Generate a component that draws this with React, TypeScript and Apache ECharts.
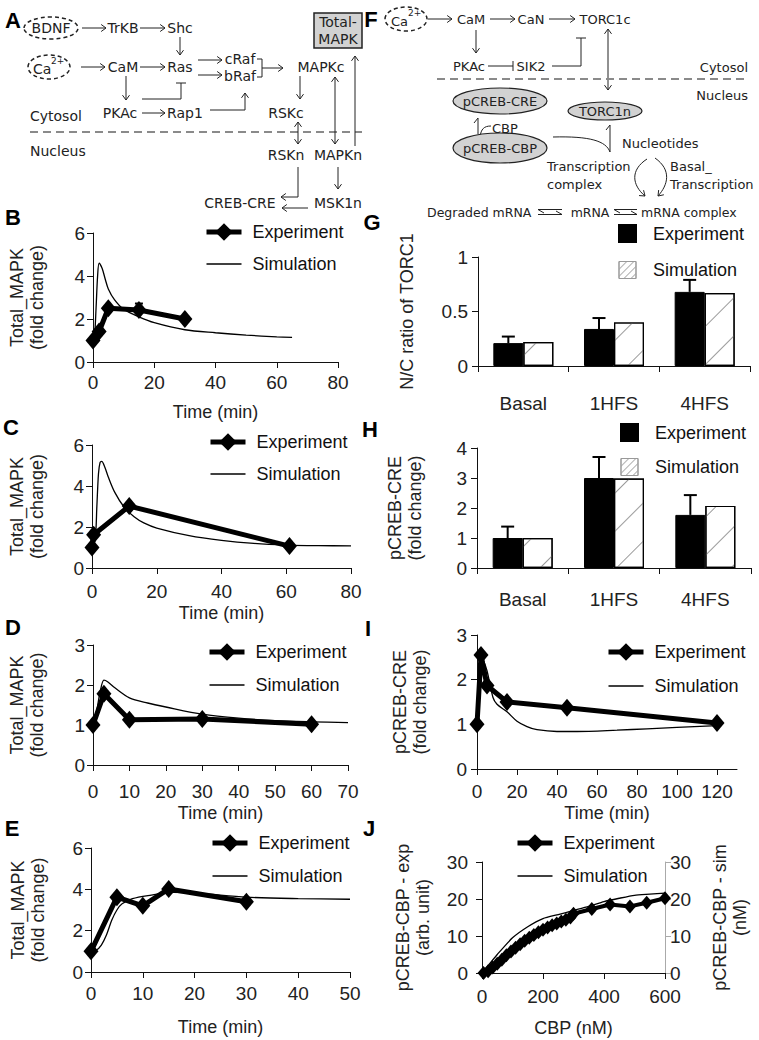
import React, { useEffect, useRef } from "react";
import * as echarts from "echarts";

// ---------------- data ----------------
const bExpTime = [0, 2, 5, 15, 30];
const bExpVal = [1.0, 1.42, 2.5, 2.42, 2.0];
const bErr = [[15, 2.12, 2.72]];
const bSimTime = [0, 0.5, 1, 1.5, 2, 3, 4, 5, 7, 10, 15, 20, 30, 40, 50, 60, 65];
const bSimVal = [1, 1.2, 2.5, 4.0, 4.6, 4.35, 3.85, 3.4, 2.9, 2.45, 2.1, 1.83, 1.5, 1.36, 1.25, 1.17, 1.15];

const cExpTime = [0, 0.5, 11.5, 61];
const cExpVal = [1.0, 1.62, 3.02, 1.07];
const cSimTime = [0, 1, 1.5, 2, 2.5, 3, 4, 5, 7, 10, 13, 16, 20, 30, 40, 50, 60, 70, 80];
const cSimVal = [1, 1.4, 3.0, 4.6, 5.15, 5.2, 4.9, 4.45, 3.7, 2.95, 2.5, 2.2, 1.95, 1.58, 1.35, 1.2, 1.12, 1.09, 1.08];

const dExpTime = [0, 3, 10, 30, 60];
const dExpVal = [1.0, 1.78, 1.13, 1.15, 1.02];
const dSimTime = [0, 1, 2, 3, 4, 6, 10, 15, 20, 30, 40, 50, 60, 70];
const dSimVal = [1, 1.35, 1.85, 2.12, 2.08, 1.93, 1.68, 1.55, 1.45, 1.27, 1.17, 1.11, 1.08, 1.06];

const eExpTime = [0, 5, 10, 15, 30];
const eExpVal = [1.0, 3.62, 3.2, 4.02, 3.4];
const eSimTime = [0, 1, 2, 3, 4, 5, 6, 8, 11, 16, 21, 30, 40, 50];
const eSimVal = [1, 1.05, 1.3, 1.8, 2.5, 3.0, 3.3, 3.55, 3.7, 3.85, 3.8, 3.62, 3.55, 3.52];

const barCats = ["Basal", "1HFS", "4HFS"];
const gExp = [0.21, 0.34, 0.68];
const gExpErr = [0.27, 0.44, 0.79];
const gSim = [0.22, 0.4, 0.67];
const hExp = [1.0, 3.0, 1.77];
const hExpErr = [1.38, 3.7, 2.43];
const hSim = [1.0, 2.98, 2.07];

const iExpTime = [0, 2, 5, 15, 45, 120];
const iExpVal = [1.0, 2.55, 1.87, 1.5, 1.37, 1.03];
const iSimTime = [0, 1, 2, 3, 5, 8, 10, 15, 20, 25, 30, 40, 50, 70, 85, 100, 120];
const iSimVal = [1, 1.9, 2.5, 2.45, 2.2, 1.6, 1.45, 1.28, 1.07, 0.95, 0.88, 0.84, 0.84, 0.87, 0.9, 0.93, 0.97];

const jExpCbp = [5, 20, 35, 50, 65, 80, 95, 110, 125, 140, 155, 170, 185, 200, 215, 230, 245, 260, 275, 290, 300, 360, 420, 485, 540, 600];
const jExpVal = [0, 0.5, 1.5, 2.5, 3.6, 4.8, 5.8, 6.8, 7.8, 8.7, 9.5, 10.3, 11, 11.7, 12.3, 12.9, 13.4, 13.9, 14.4, 15, 16, 17.3, 18.5, 18, 19, 20.2];
const jSimCbp = [0, 25, 50, 100, 150, 200, 250, 300, 350, 400, 450, 500, 550, 600];
const jSimVal = [0, 2.5, 5, 9.5, 12.5, 14.7, 15.8, 16.9, 18, 19.3, 20.2, 21, 21.3, 21.6];

// ---------------- helpers ----------------
const zip = (a: number[], b: number[]) => a.map((v, i) => [v, b[i]]);
const INK = "#222";
const DIA = "DejaVu Sans";
const SANS = "Liberation Sans";
const BAR_W = 30;
const FILL = "#d2d2d2";

function txt(x: number, y: number, s: string, size = 14, align = "center", extra: any = {}) {
  return { type: "text", x, y, silent: true, style: { text: s, fontSize: size, fontFamily: DIA, fill: INK, align, verticalAlign: "middle", ...extra } };
}
function seg(x1: number, y1: number, x2: number, y2: number, style: any = {}) {
  return { type: "line", silent: true, shape: { x1, y1, x2, y2 }, style: { stroke: INK, lineWidth: 1, ...style } };
}
function poly(points: number[][], style: any = {}) {
  return { type: "polyline", silent: true, shape: { points }, style: { stroke: INK, lineWidth: 1, fill: "none", ...style } };
}
function head(x: number, y: number, ang: number, len = 6) {
  const a1 = ang + Math.PI * 0.8, a2 = ang - Math.PI * 0.8;
  return poly([[x + len * Math.cos(a1), y + len * Math.sin(a1)], [x, y], [x + len * Math.cos(a2), y + len * Math.sin(a2)]]);
}
function arrow(x1: number, y1: number, x2: number, y2: number) {
  return [seg(x1, y1, x2, y2), head(x2, y2, Math.atan2(y2 - y1, x2 - x1))];
}
function arrow2(x1: number, y1: number, x2: number, y2: number) {
  const a = Math.atan2(y2 - y1, x2 - x1);
  return [seg(x1, y1, x2, y2), head(x2, y2, a), head(x1, y1, a + Math.PI)];
}
function tbar(x: number, y: number, ang: number, len = 10) {
  const dx = -Math.sin(ang) * len / 2, dy = Math.cos(ang) * len / 2;
  return seg(x - dx, y - dy, x + dx, y + dy);
}
function ell(cx: number, cy: number, rx: number, ry: number, dashed: boolean, fill: string) {
  return { type: "ellipse", silent: true, shape: { cx, cy, rx, ry }, style: { fill, stroke: INK, lineWidth: dashed ? 1.5 : 1.2, lineDash: dashed ? [4, 3] : null } };
}
function bez(x1: number, y1: number, cx1: number, cy1: number, cx2: number, cy2: number, x2: number, y2: number) {
  return { type: "bezierCurve", silent: true, shape: { x1, y1, cpx1: cx1, cpy1: cy1, cpx2: cx2, cpy2: cy2, x2, y2 }, style: { stroke: INK, lineWidth: 1, fill: "none" } };
}
// equilibrium harpoons between x1 and x2 around y
function harpoons(x1: number, x2: number, y: number) {
  return [
    seg(x1, y - 2.5, x2, y - 2.5), poly([[x1, y - 2.5], [x1 + 6, y + 1]]),
    seg(x1, y + 2.5, x2, y + 2.5), poly([[x2, y + 2.5], [x2 - 6, y - 1]]),
  ];
}
const DASH = { stroke: "#8a8a8a", lineWidth: 2, lineDash: [8, 5] };

const diagramA = [
  ell(51, 28, 27, 11, true, "none"), txt(51, 28, "BDNF"),
  ...arrow(82, 28, 106, 28), txt(123, 28, "TrKB"),
  ...arrow(140, 28, 165, 28), txt(180, 28, "Shc"),
  ...arrow(180, 37, 180, 55),
  ell(49, 67, 21, 12, true, "none"), txt(33, 69, "Ca", 14, "left"), txt(51, 61, "2+", 9, "left"),
  ...arrow(81, 67, 105, 67), txt(123, 67, "CaM"),
  ...arrow(140, 67, 165, 67), txt(180, 67, "Ras"),
  ...arrow(198, 60, 222, 60), ...arrow(198, 75, 222, 75),
  txt(240, 59, "cRaf"), txt(240, 76, "bRaf"),
  poly([[257, 59], [262, 59], [262, 77], [257, 77]]),
  ...arrow(262, 68, 283, 68), txt(321, 67, "MAPKc"),
  ...arrow(126, 76, 126, 100), txt(120, 113, "PKAc"),
  ...arrow(142, 113, 165, 113), txt(185, 113, "Rap1"),
  poly([[142, 99], [181, 99], [181, 83]]), tbar(181, 83, -Math.PI / 2),
  poly([[210, 110], [245, 110], [245, 93]]), head(245, 93, -Math.PI / 2),
  txt(30, 116, "Cytosol", 14, "left"), seg(30, 132, 362, 132, DASH), txt(30, 151, "Nucleus", 14, "left"),
  ...arrow(300, 76, 300, 99), txt(286, 113, "RSKc"),
  ...arrow2(298, 122, 298, 144), txt(286, 155, "RSKn"),
  ...arrow2(335, 77, 335, 144), txt(338, 155, "MAPKn"),
  ...arrow(355, 146, 355, 56),
  { type: "rect", silent: true, shape: { x: 314, y: 13, width: 48, height: 35 }, style: { fill: FILL, stroke: INK, lineWidth: 1.5 } },
  txt(338, 22, "Total-"), txt(338, 39, "MAPK"),
  poly([[298, 167], [298, 197], [281, 197]]), head(281, 197, Math.PI),
  ...arrow(308, 208, 282, 208),
  ...arrow(338, 167, 338, 189),
  txt(240, 203, "CREB-CRE"), txt(338, 203, "MSK1n"),
];

const FS = 13;
const diagramF = [
  ell(406, 19, 21, 12, true, "none"), txt(391, 21, "Ca", FS, "left"), txt(408, 13, "2+", 9, "left"),
  ...arrow(428, 19, 452, 19), txt(471, 19, "CaM", FS),
  ...arrow(490, 19, 515, 19), txt(531, 19, "CaN", FS),
  ...arrow(549, 19, 575, 19), txt(605, 19, "TORC1c", FS),
  ...arrow(476, 30, 476, 53), txt(469, 66, "PKAc", FS),
  seg(488, 66, 513, 66), tbar(513, 66, 0), txt(531, 66, "SIK2", FS),
  poly([[552, 66], [581, 66], [581, 38]]), tbar(581, 38, -Math.PI / 2),
  ...arrow2(608, 29, 608, 90),
  txt(748, 67, "Cytosol", FS, "right"), seg(437, 79, 748, 79, DASH), txt(748, 95, "Nucleus", FS, "right"),
  ell(500, 101, 47, 13, false, FILL), txt(500, 101, "pCREB-CRE", FS),
  ell(605, 111, 37, 9, false, FILL), txt(605, 111, "TORC1n", FS),
  seg(478, 134, 478, 118), poly([[474, 123], [478, 118]]),
  bez(491, 126, 484, 126, 481, 129, 480, 137), txt(492, 128, "CBP", FS, "left"),
  ell(500, 148, 47, 15, false, FILL), txt(500, 148, "pCREB-CBP", FS),
  bez(553, 137, 590, 136, 606, 141, 610, 152), seg(610, 152, 610, 125), poly([[606, 130], [610, 125]]),
  txt(622, 143, "Nucleotides", FS, "left"),
  txt(547, 166, "Transcription", FS, "left"), txt(547, 184, "complex", FS, "left"),
  txt(670, 166, "Basal_", FS, "left"), txt(670, 184, "Transcription", FS, "left"),
  bez(647, 159, 630, 170, 632, 185, 645, 196), head(645, 196, Math.atan2(11, 13)),
  bez(655, 158, 672, 170, 668, 185, 658, 196), head(658, 196, Math.atan2(11, -10)),
  txt(427, 212, "Degraded mRNA", 12.5, "left"), ...harpoons(538, 562, 212),
  txt(590, 212, "mRNA", 12.5), ...harpoons(614, 637, 212), txt(641, 212, "mRNA complex", 12.5, "left"),
];

const letterPos: [string, number, number][] = [
  ["A", 13, 20], ["F", 371, 19], ["B", 13, 217], ["C", 11, 427], ["D", 13, 627], ["E", 12, 828],
  ["G", 372, 222], ["H", 370, 429], ["I", 368, 628], ["J", 369, 828],
];
const letters = letterPos.map(([s, x, y]) => ({
  type: "text", x, y, silent: true,
  style: { text: s, fontSize: 22, fontWeight: "bold", fontFamily: SANS, fill: "#000", align: "center", verticalAlign: "middle" },
}));

// ---------------- axes ----------------
const axLine = { show: true, onZero: false, lineStyle: { color: "#111", width: 1 } };
const axTick = { show: true, length: 6, lineStyle: { color: "#111", width: 1 } };
const nameStyle = { fontSize: 18, color: "#222", lineHeight: 20, fontFamily: SANS };

function valX(gi: number, max: number, interval: number, name: string, nameGap: number, margin: number, extra: any = {}) {
  return {
    type: "value", gridIndex: gi, min: 0, max, interval, name, nameLocation: "middle", nameGap, nameTextStyle: nameStyle,
    axisLine: axLine, axisTick: axTick, splitLine: { show: false },
    axisLabel: { fontSize: 19, color: "#222", margin, ...extra },
  };
}
function valY(gi: number, max: number, interval: number, name: string, nameGap: number, margin: number, extra: any = {}) {
  return {
    type: "value", gridIndex: gi, min: 0, max, interval, name, nameLocation: "middle", nameGap, nameTextStyle: nameStyle,
    axisLine: axLine, axisTick: axTick, splitLine: { show: false },
    axisLabel: { fontSize: 19, color: "#222", margin }, ...extra,
  };
}
function catX(gi: number, margin: number) {
  return {
    type: "category", gridIndex: gi, data: barCats, axisLine: axLine,
    axisTick: { ...axTick, alignWithLabel: false }, splitLine: { show: false },
    axisLabel: { fontSize: 19, color: "#222", margin },
  };
}

// ---------------- series ----------------
function expLine(name: string, ai: number, data: number[][], size: number[] = [15, 18], width = 5) {
  return {
    type: "line", name, xAxisIndex: ai, yAxisIndex: ai, data, symbol: "diamond", symbolSize: size, z: 4,
    lineStyle: { color: "#000", width }, itemStyle: { color: "#000" },
  };
}
function simLine(name: string, xi: number, yi: number, data: number[][]) {
  return {
    type: "line", name, xAxisIndex: xi, yAxisIndex: yi, data, symbol: "none", smooth: 0.3, z: 3,
    lineStyle: { color: "#000", width: 1.3 }, itemStyle: { color: "#000" },
  };
}
function errBars(ai: number, data: number[][], offset: number, cap: number) {
  return {
    type: "custom", xAxisIndex: ai, yAxisIndex: ai, data, z: 2, silent: true,
    encode: { x: 0, y: [1, 2] },
    renderItem: (_p: any, api: any) => {
      const a = api.coord([api.value(0), api.value(1)]);
      const b = api.coord([api.value(0), api.value(2)]);
      const x = a[0] + offset;
      return {
        type: "group",
        children: [
          { type: "line", shape: { x1: x, y1: a[1], x2: x, y2: b[1] }, style: { stroke: "#000", lineWidth: 2 } },
          { type: "line", shape: { x1: x - cap / 2, y1: b[1], x2: x + cap / 2, y2: b[1] }, style: { stroke: "#000", lineWidth: 2 } },
        ],
      };
    },
  };
}
const decal = { symbol: "rect", symbolSize: 1, dashArrayX: [1, 0], dashArrayY: [1, 26], rotation: -Math.PI / 4, color: "#9a9a9a" };
const legendDecal = { symbol: "rect", symbolSize: 1, dashArrayX: [1, 0], dashArrayY: [1, 4], rotation: -Math.PI / 4, color: "#b0b0b0" };
function bars(key: string, ai: number, exp: number[], sim: number[]) {
  return [
    { type: "bar", name: `Experiment ${key}`, xAxisIndex: ai, yAxisIndex: ai, data: exp, barWidth: BAR_W, barGap: "0%", z: 3,
      itemStyle: { color: "#000", borderColor: "#000", borderWidth: 1 } },
    { type: "bar", name: `Simulation ${key}`, xAxisIndex: ai, yAxisIndex: ai, data: sim, barWidth: BAR_W, barGap: "0%", z: 3,
      itemStyle: { color: "#fff", borderColor: "#000", borderWidth: 1.2, decal } },
  ];
}

function lineLegend(key: string, left: number, top: number, gap: number) {
  return {
    left, top, orient: "vertical", padding: 0, itemWidth: 35, itemHeight: 22, itemGap: gap, selectedMode: false,
    data: [
      { name: `Experiment ${key}`, lineStyle: { width: 5, color: "#000" } },
      { name: `Simulation ${key}`, itemStyle: { color: "rgba(0,0,0,0)", borderWidth: 0, opacity: 0 }, lineStyle: { width: 1.3, color: "#000" } },
    ],
    formatter: (n: string) => n.split(" ")[0],
    textStyle: { fontSize: 18, color: "#111", fontFamily: SANS, padding: [0, 0, 0, 6] },
  };
}
function barLegend(key: string, left: number, top: number, gap: number) {
  return {
    left, top, orient: "vertical", padding: 0, itemWidth: 17, itemHeight: 17, itemGap: gap, selectedMode: false, icon: "rect",
    data: [`Experiment ${key}`, { name: `Simulation ${key}`, itemStyle: { borderColor: "#999", borderWidth: 1, decal: legendDecal } }],
    formatter: (n: string) => n.split(" ")[0],
    textStyle: { fontSize: 18, color: "#111", fontFamily: SANS, padding: [0, 0, 0, 12] },
  };
}

function buildOption() {
  const grids = [
    { left: 93, top: 233, width: 245, height: 129 }, // B
    { left: 92, top: 445, width: 259, height: 123 }, // C
    { left: 93, top: 645, width: 255, height: 120 }, // D
    { left: 91, top: 848, width: 259, height: 124 }, // E
    { left: 478, top: 257, width: 272, height: 109 }, // G
    { left: 477, top: 448, width: 274, height: 120 }, // H
    { left: 477, top: 635, width: 260, height: 134 }, // I
    { left: 482, top: 862, width: 183, height: 111 }, // J
  ].map((g) => ({ ...g, containLabel: false, outerBoundsMode: "none" }));

  const xAxis = [
    valX(0, 80, 20, "Time (min)", 40, 11),
    valX(1, 80, 20, "Time (min)", 35, 14),
    valX(2, 70, 10, "Time (min)", 38, 17),
    valX(3, 50, 10, "Time (min)", 45, 12),
    catX(4, 28),
    catX(5, 22),
    valX(6, 130, 20, "Time (min)", 34, 13, { showMaxLabel: false }),
    valX(7, 600, 200, "CBP (nM)", 45, 14),
  ];
  const yAxis = [
    valY(0, 6, 2, "Total_MAPK\n(fold change)", 46, 8),
    valY(1, 6, 2, "Total_MAPK\n(fold change)", 45, 8),
    valY(2, 3, 1, "Total_MAPK\n(fold change)", 46, 8),
    valY(3, 6, 2, "Total_MAPK\n(fold change)", 43, 8),
    valY(4, 1, 0.5, "N/C ratio of TORC1", 61, 10),
    valY(5, 4, 1, "pCREB-CRE\n(fold change)", 52, 10),
    valY(6, 3, 1, "pCREB-CRE\n(fold change)", 47, 10),
    valY(7, 30, 10, "pCREB-CBP - exp\n(arb. unit)", 49, 14),
    valY(7, 30, 10, "pCREB-CBP - sim\n(nM)", 45, 5, {
      position: "right",
      axisLine: { show: true, onZero: false, lineStyle: { color: "#aaa", width: 1 } },
      axisTick: { show: true, length: 6, lineStyle: { color: "#aaa", width: 1 } },
    }),
  ];

  const series: any[] = [
    errBars(0, bErr, 0, 8),
    simLine("Simulation B", 0, 0, zip(bSimTime, bSimVal)),
    expLine("Experiment B", 0, zip(bExpTime, bExpVal)),
    simLine("Simulation C", 1, 1, zip(cSimTime, cSimVal)),
    expLine("Experiment C", 1, zip(cExpTime, cExpVal)),
    simLine("Simulation D", 2, 2, zip(dSimTime, dSimVal)),
    expLine("Experiment D", 2, zip(dExpTime, dExpVal)),
    simLine("Simulation E", 3, 3, zip(eSimTime, eSimVal)),
    expLine("Experiment E", 3, zip(eExpTime, eExpVal)),
    ...bars("G", 4, gExp, gSim),
    errBars(4, barCats.map((_, i) => [i, gExp[i], gExpErr[i]]), -BAR_W / 2, 13),
    ...bars("H", 5, hExp, hSim),
    errBars(5, barCats.map((_, i) => [i, hExp[i], hExpErr[i]]), -BAR_W / 2, 13),
    simLine("Simulation I", 6, 6, zip(iSimTime, iSimVal)),
    expLine("Experiment I", 6, zip(iExpTime, iExpVal)),
    { ...simLine("Simulation J", 7, 8, zip(jSimCbp, jSimVal)), smooth: 0.2 },
    expLine("Experiment J", 7, zip(jExpCbp, jExpVal), [12, 14], 4),
  ];

  return {
    animation: false,
    backgroundColor: "#fff",
    textStyle: { fontFamily: SANS },
    grid: grids,
    xAxis,
    yAxis,
    legend: [
      lineLegend("B", 204, 223, 14),
      lineLegend("C", 208, 433, 14),
      lineLegend("D", 207, 643, 15),
      lineLegend("E", 210, 834, 15),
      barLegend("G", 618, 224, 18),
      barLegend("H", 620, 423, 16),
      lineLegend("I", 606, 643, 16),
      lineLegend("J", 515, 834, 15),
    ],
    series,
    graphic: [...diagramA, ...diagramF, ...letters],
  };
}

export default function App() {
  const ref = useRef<HTMLDivElement>(null);
  useEffect(() => {
    const chart = echarts.init(ref.current as HTMLDivElement, null, { renderer: "svg" });
    chart.setOption(buildOption() as any);
    return () => chart.dispose();
  }, []);
  return <div ref={ref} style={{ position: "absolute", left: 0, top: 0, width: 759, height: 1040, background: "#fff" }} />;
}
